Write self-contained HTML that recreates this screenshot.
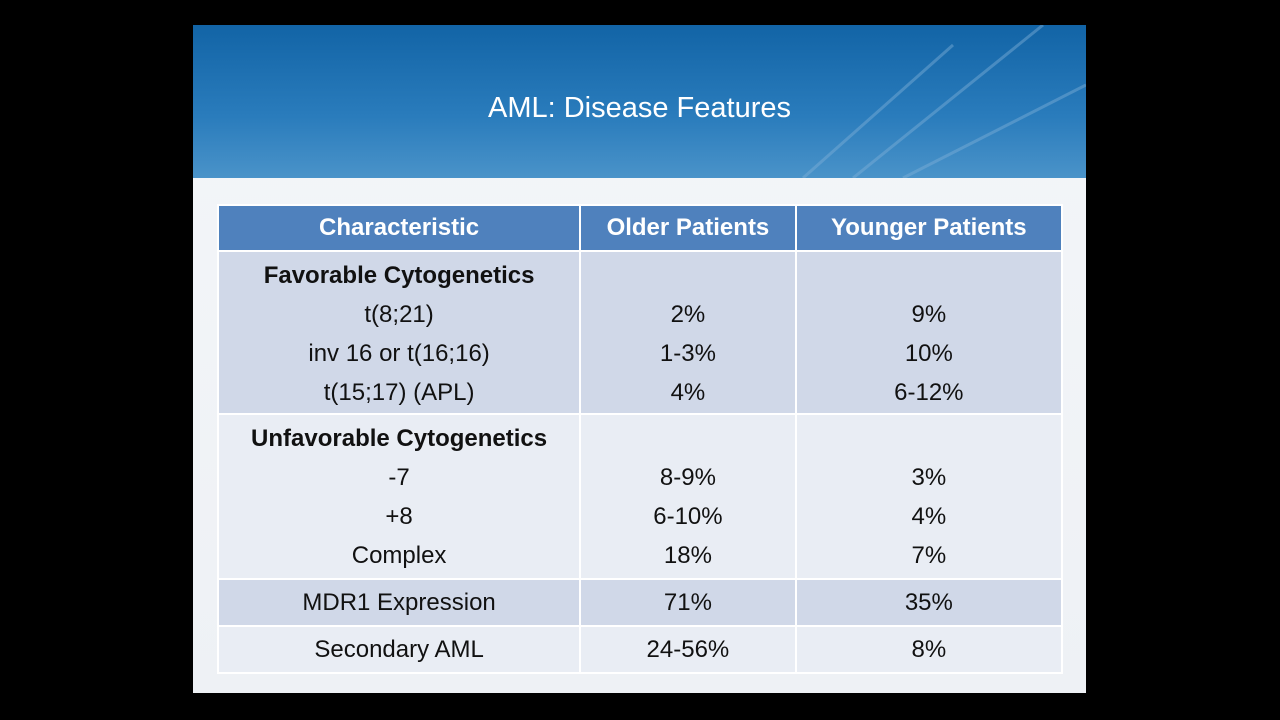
<!DOCTYPE html>
<html><head><meta charset="utf-8"><style>
body{margin:0;width:1280px;height:720px;background:#000;position:relative;overflow:hidden;font-family:"Liberation Sans",sans-serif}
#slide{position:absolute;left:193px;top:25px;width:893px;height:668px;background:linear-gradient(#f4f6f9,#eef1f5)}
#hdr{position:absolute;left:0;top:0;width:893px;height:153px;background:linear-gradient(180deg,#1264a6 0%,#2a7cbc 60%,#4a93c9 100%)}
#title{position:absolute;left:0;top:67px;width:893px;text-align:center;color:#fff;font-size:29px}
table{position:absolute;left:217px;top:204px;border-collapse:collapse;width:846px;font-size:24px;color:#111}
td,th{border:2px solid #fff;text-align:center;padding:0;vertical-align:top;line-height:39px}
th{background:#4f81bd;color:#fff;height:44px;line-height:44px;font-size:24px}
.a{background:#d0d8e8}.b{background:#e9edf4}
</style></head><body>
<div id="slide">
<div id="hdr">
<svg width="893" height="153" style="position:absolute;left:0;top:0"><g stroke="#7fb0d8" stroke-width="3" opacity=".45" fill="none"><line x1="610" y1="153" x2="760" y2="20"/><line x1="660" y1="153" x2="850" y2="0"/><line x1="710" y1="153" x2="893" y2="60"/></g></svg>
<div id="title">AML: Disease Features</div></div>
</div>
<table>
<colgroup><col style="width:363px"><col style="width:216px"><col style="width:267px"></colgroup>
<tr><th>Characteristic</th><th>Older Patients</th><th>Younger Patients</th></tr>
<tr class="a" style="height:163px"><td style="padding-top:4px"><b>Favorable Cytogenetics</b><br>t(8;21)<br>inv 16 or t(16;16)<br>t(15;17) (APL)</td><td style="padding-top:43px">2%<br>1-3%<br>4%</td><td style="padding-top:43px">9%<br>10%<br>6-12%</td></tr>
<tr class="b" style="height:165px"><td style="padding-top:4px"><b>Unfavorable Cytogenetics</b><br>-7<br>+8<br>Complex</td><td style="padding-top:43px">8-9%<br>6-10%<br>18%</td><td style="padding-top:43px">3%<br>4%<br>7%</td></tr>
<tr class="a" style="height:47px"><td style="vertical-align:middle">MDR1 Expression</td><td style="vertical-align:middle">71%</td><td style="vertical-align:middle">35%</td></tr>
<tr class="b" style="height:47px"><td style="vertical-align:middle">Secondary AML</td><td style="vertical-align:middle">24-56%</td><td style="vertical-align:middle">8%</td></tr>
</table>
</body></html>
